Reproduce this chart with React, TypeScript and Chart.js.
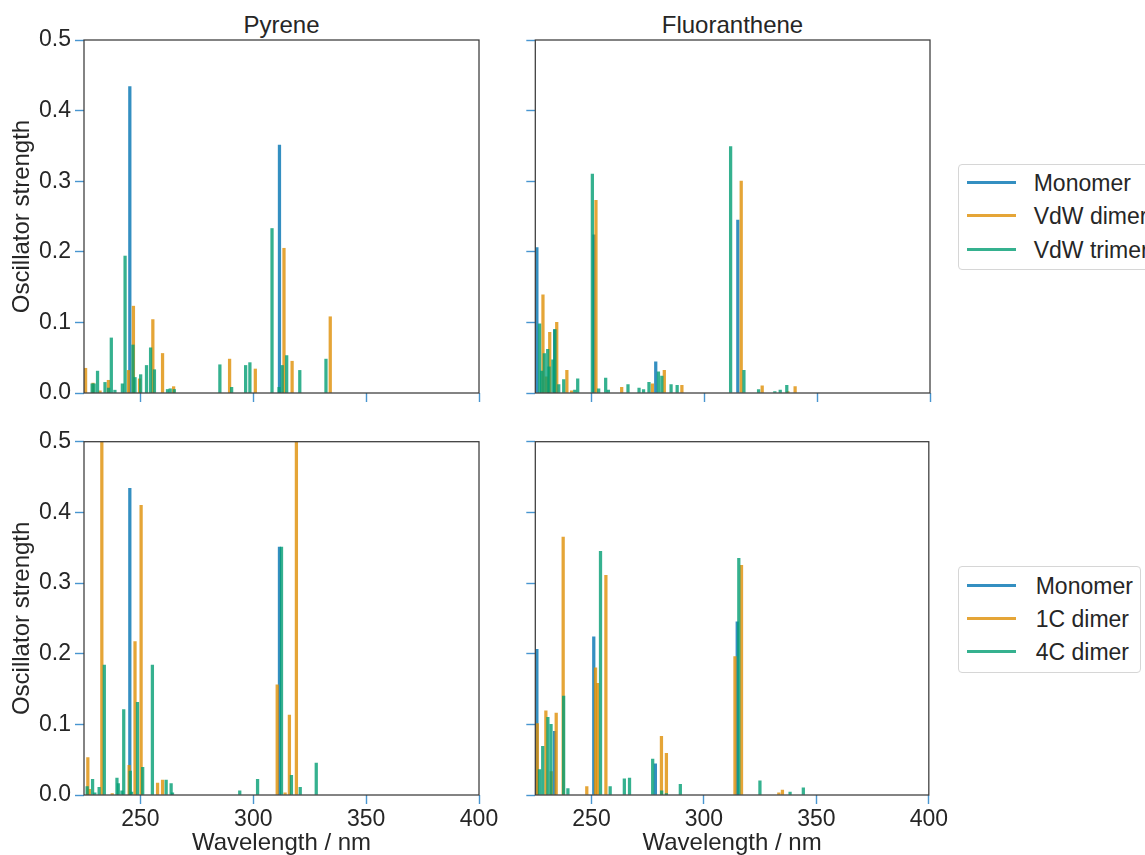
import React, { useEffect, useRef } from "react";
import { Chart, registerables } from "chart.js";

Chart.register(...registerables);

type Pt = [number, number];

// ---- Data (wavelength nm, oscillator strength) ----
const topLegendLabels = ["Monomer", "VdW dimer", "VdW trimer"];
const bottomLegendLabels = ["Monomer", "1C dimer", "4C dimer"];
const panelTitles = ["Pyrene", "Fluoranthene"];
const xTickValues = [250, 300, 350, 400];
const yTickValues = [0, 0.1, 0.2, 0.3, 0.4, 0.5];

const pyreneMonomer: Pt[] = [[245.3, 0.434], [311.6, 0.351]];
const pyreneVdwDimer: Pt[] = [
  [225.7, 0.035], [229.0, 0.014], [232.1, 0.003], [235.8, 0.018], [244.7, 0.032], [246.9, 0.123],
  [249.6, 0.020], [255.5, 0.104], [259.8, 0.056], [264.7, 0.009], [289.5, 0.048], [300.9, 0.034],
  [313.6, 0.205], [317.2, 0.045], [334.1, 0.108],
];
const pyreneVdwTrimer: Pt[] = [
  [228.6, 0.013], [229.5, 0.013], [231.0, 0.031], [234.3, 0.015], [235.9, 0.007], [237.1, 0.078],
  [238.7, 0.004], [242.0, 0.013], [243.2, 0.194], [246.7, 0.068], [247.6, 0.022], [250.1, 0.026],
  [252.7, 0.039], [254.5, 0.064], [256.2, 0.033], [262.0, 0.005], [263.2, 0.006], [265.0, 0.005],
  [285.2, 0.040], [290.4, 0.008], [296.6, 0.039], [298.5, 0.043], [308.3, 0.233], [311.4, 0.008],
  [312.8, 0.039], [314.8, 0.053], [320.6, 0.032], [332.2, 0.048],
];
const fluorMonomer: Pt[] = [[225.7, 0.206], [233.6, 0.090], [251.0, 0.224], [278.4, 0.044], [314.8, 0.245]];
const fluorVdwDimer: Pt[] = [
  [228.4, 0.139], [229.9, 0.023], [231.4, 0.086], [234.5, 0.100], [239.0, 0.032], [241.1, 0.003],
  [251.9, 0.273], [263.3, 0.008], [276.9, 0.013], [282.2, 0.032], [290.0, 0.011], [316.3, 0.300],
  [325.6, 0.010], [337.0, 0.002], [340.2, 0.009],
];
const fluorVdwTrimer: Pt[] = [
  [226.9, 0.098], [227.8, 0.031], [229.0, 0.056], [230.5, 0.062], [231.1, 0.037], [232.8, 0.047],
  [233.7, 0.090], [235.4, 0.012], [237.6, 0.019], [242.5, 0.004], [243.8, 0.020], [250.3, 0.310],
  [253.1, 0.006], [256.2, 0.021], [257.4, 0.004], [266.1, 0.012], [271.0, 0.007], [273.0, 0.005],
  [275.4, 0.015], [279.6, 0.030], [281.1, 0.024], [285.2, 0.012], [287.9, 0.011], [311.6, 0.349],
  [317.5, 0.032], [324.0, 0.005], [331.2, 0.002], [333.6, 0.004], [336.5, 0.011],
];
const pyrene1C: Pt[] = [
  [226.7, 0.053], [227.4, 0.008], [232.9, 0.62], [237.5, 0.002], [245.0, 0.042], [247.6, 0.217],
  [250.3, 0.410], [257.6, 0.017], [259.8, 0.021], [310.6, 0.156], [314.1, 0.003], [316.0, 0.113],
  [319.1, 0.62],
];
const pyrene4C: Pt[] = [
  [226.4, 0.012], [228.8, 0.022], [229.8, 0.003], [231.7, 0.011], [234.0, 0.184], [239.6, 0.024],
  [240.2, 0.016], [241.8, 0.006], [242.6, 0.121], [245.5, 0.034], [246.1, 0.004], [248.7, 0.131],
  [251.0, 0.039], [255.3, 0.184], [261.4, 0.021], [263.6, 0.016], [264.2, 0.003], [294.0, 0.006],
  [301.9, 0.022], [312.5, 0.351], [316.9, 0.028], [320.8, 0.011], [327.9, 0.045],
];
const fluor1C: Pt[] = [
  [225.9, 0.101], [229.7, 0.119], [232.1, 0.033], [234.3, 0.116], [237.4, 0.365], [247.9, 0.012],
  [251.8, 0.180], [252.7, 0.158], [256.4, 0.311], [281.1, 0.083], [283.3, 0.059], [313.8, 0.196],
  [316.7, 0.325], [333.3, 0.003], [334.9, 0.007],
];
const fluor4C: Pt[] = [
  [226.9, 0.036], [228.3, 0.069], [230.6, 0.110], [232.0, 0.100], [237.6, 0.140], [239.5, 0.009],
  [254.0, 0.345], [258.3, 0.012], [264.6, 0.023], [266.9, 0.024], [277.2, 0.051], [281.2, 0.006],
  [283.3, 0.002], [289.5, 0.015], [315.5, 0.335], [324.9, 0.020], [338.3, 0.004], [344.2, 0.010],
];

// ---- Styles ----
const COLORS = ["rgba(1,115,178,0.8)", "rgba(222,143,5,0.8)", "rgba(2,158,115,0.8)"];
const FONT = "'Liberation Sans', Arial, Helvetica, sans-serif";
const TEXT = "#262626";
const SPINE = "#3a3a3a";
const TICK = "rgba(40,130,200,0.85)";

const boxPlugin = {
  id: "box",
  afterDatasetsDraw(chart: any) {
    const { ctx, chartArea: a } = chart;
    ctx.save();
    ctx.strokeStyle = SPINE;
    ctx.lineWidth = 1.25;
    ctx.strokeRect(a.left, a.top, a.right - a.left, a.bottom - a.top);
    ctx.restore();
  },
};

type PanelProps = {
  left: number; top: number; width: number; height: number;
  areaLeft: number; areaTop: number; areaRight: number; areaBottom: number;
  series: Pt[][]; labels: string[]; xLabels: boolean; yLabels: boolean;
};

function Panel(p: PanelProps) {
  const ref = useRef<HTMLCanvasElement>(null);
  useEffect(() => {
    const chart = new Chart(ref.current as HTMLCanvasElement, {
      type: "bar",
      data: {
        datasets: p.series.map((s, i) => ({
          label: p.labels[i],
          data: s.map(([x, y]) => ({ x, y })),
          backgroundColor: COLORS[i],
          borderWidth: 0,
          barThickness: 2.6,
          grouped: false,
          order: 3 - i,
        })) as any,
      },
      options: {
        responsive: false,
        animation: false,
        events: [],
        layout: { padding: { left: 0, top: p.areaTop, right: p.width - p.areaRight, bottom: 0 } },
        plugins: { legend: { display: false }, tooltip: { enabled: false }, title: { display: false } },
        scales: {
          x: {
            type: "linear",
            min: 225,
            max: 400,
            offset: false,
            afterBuildTicks: (s: any) => { s.ticks = xTickValues.map((v) => ({ value: v })); },
            afterFit: (s: any) => { s.height = p.height - p.areaBottom; },
            grid: { display: true, drawOnChartArea: false, drawTicks: true, tickLength: 9, tickWidth: 1.4, tickColor: TICK, offset: false },
            border: { display: false },
            ticks: { display: p.xLabels, padding: 2, color: TEXT, font: { family: FONT, size: 23 }, maxRotation: 0, autoSkip: false },
            title: { display: p.xLabels, text: "Wavelength / nm", color: TEXT, font: { family: FONT, size: 24, lineHeight: 1 }, padding: { top: 0, bottom: 0 } },
          },
          y: {
            type: "linear",
            min: 0,
            max: 0.5,
            afterBuildTicks: (s: any) => { s.ticks = yTickValues.map((v) => ({ value: v })); },
            afterFit: (s: any) => { s.width = p.areaLeft; },
            grid: { display: true, drawOnChartArea: false, drawTicks: true, tickLength: 9, tickWidth: 1.4, tickColor: TICK },
            border: { display: false },
            ticks: { display: p.yLabels, padding: 4, color: TEXT, font: { family: FONT, size: 23 }, callback: (v: any) => Number(v).toFixed(1) },
            title: { display: p.yLabels, text: "Oscillator strength", color: TEXT, font: { family: FONT, size: 24 }, padding: { top: 8, bottom: 0 } },
          },
        },
      } as any,
      plugins: [boxPlugin],
    });
    return () => chart.destroy();
  }, []);
  return (
    <canvas
      ref={ref}
      width={p.width}
      height={p.height}
      style={{ position: "absolute", left: p.left, top: p.top, width: p.width, height: p.height }}
    />
  );
}

function Legend({ left, top, width, height, labels, rows, textLeft }: { left: number; top: number; width: number; height: number; labels: string[]; rows: number[]; textLeft: number }) {
  return (
    <div style={{ position: "absolute", left, top, width, height, border: "1px solid #d6d6d6", borderRadius: 4, boxSizing: "border-box", background: "#fff" }}>
      {labels.map((lab, i) => (
        <React.Fragment key={lab}>
          <div style={{ position: "absolute", left: 8, top: Math.round(rows[i]) - 2, width: 49, height: 3, background: COLORS[i] }} />
          <div style={{ position: "absolute", left: textLeft, top: Math.round(rows[i]) - 14, height: 28, lineHeight: "28px", fontFamily: FONT, fontSize: 23, color: TEXT, whiteSpace: "nowrap" }}>{lab}</div>
        </React.Fragment>
      ))}
    </div>
  );
}

export default function App() {
  const titleStyle: React.CSSProperties = { position: "absolute", top: 11, width: 395, height: 28, lineHeight: "28px", textAlign: "center", fontFamily: FONT, fontSize: 24, color: TEXT };
  return (
    <div style={{ position: "absolute", left: 0, top: 0, width: 1145, height: 855, overflow: "hidden", background: "#fff" }}>
      <div style={{ ...titleStyle, left: 84 }}>{panelTitles[0]}</div>
      <div style={{ ...titleStyle, left: 535 }}>{panelTitles[1]}</div>
      <Panel left={0} top={0} width={510} height={420} areaLeft={84} areaTop={40} areaRight={479} areaBottom={393}
        series={[pyreneMonomer, pyreneVdwDimer, pyreneVdwTrimer]} labels={topLegendLabels} xLabels={false} yLabels={true} />
      <Panel left={505} top={0} width={445} height={420} areaLeft={30.3} areaTop={40} areaRight={425} areaBottom={393}
        series={[fluorMonomer, fluorVdwDimer, fluorVdwTrimer]} labels={topLegendLabels} xLabels={false} yLabels={false} />
      <Panel left={0} top={420} width={510} height={435} areaLeft={84} areaTop={21.7} areaRight={479} areaBottom={375}
        series={[pyreneMonomer, pyrene1C, pyrene4C]} labels={bottomLegendLabels} xLabels={true} yLabels={true} />
      <Panel left={505} top={420} width={445} height={435} areaLeft={30.3} areaTop={21.7} areaRight={425} areaBottom={375}
        series={[fluorMonomer, fluor1C, fluor4C]} labels={bottomLegendLabels} xLabels={true} yLabels={false} />
      <Legend left={957.7} top={164} width={220} height={106} labels={topLegendLabels} rows={[18.4, 50.8, 84.6]} textLeft={75} />
      <Legend left={957.7} top={566} width={183} height={107} labels={bottomLegendLabels} rows={[18.6, 52, 85]} textLeft={77} />
    </div>
  );
}
